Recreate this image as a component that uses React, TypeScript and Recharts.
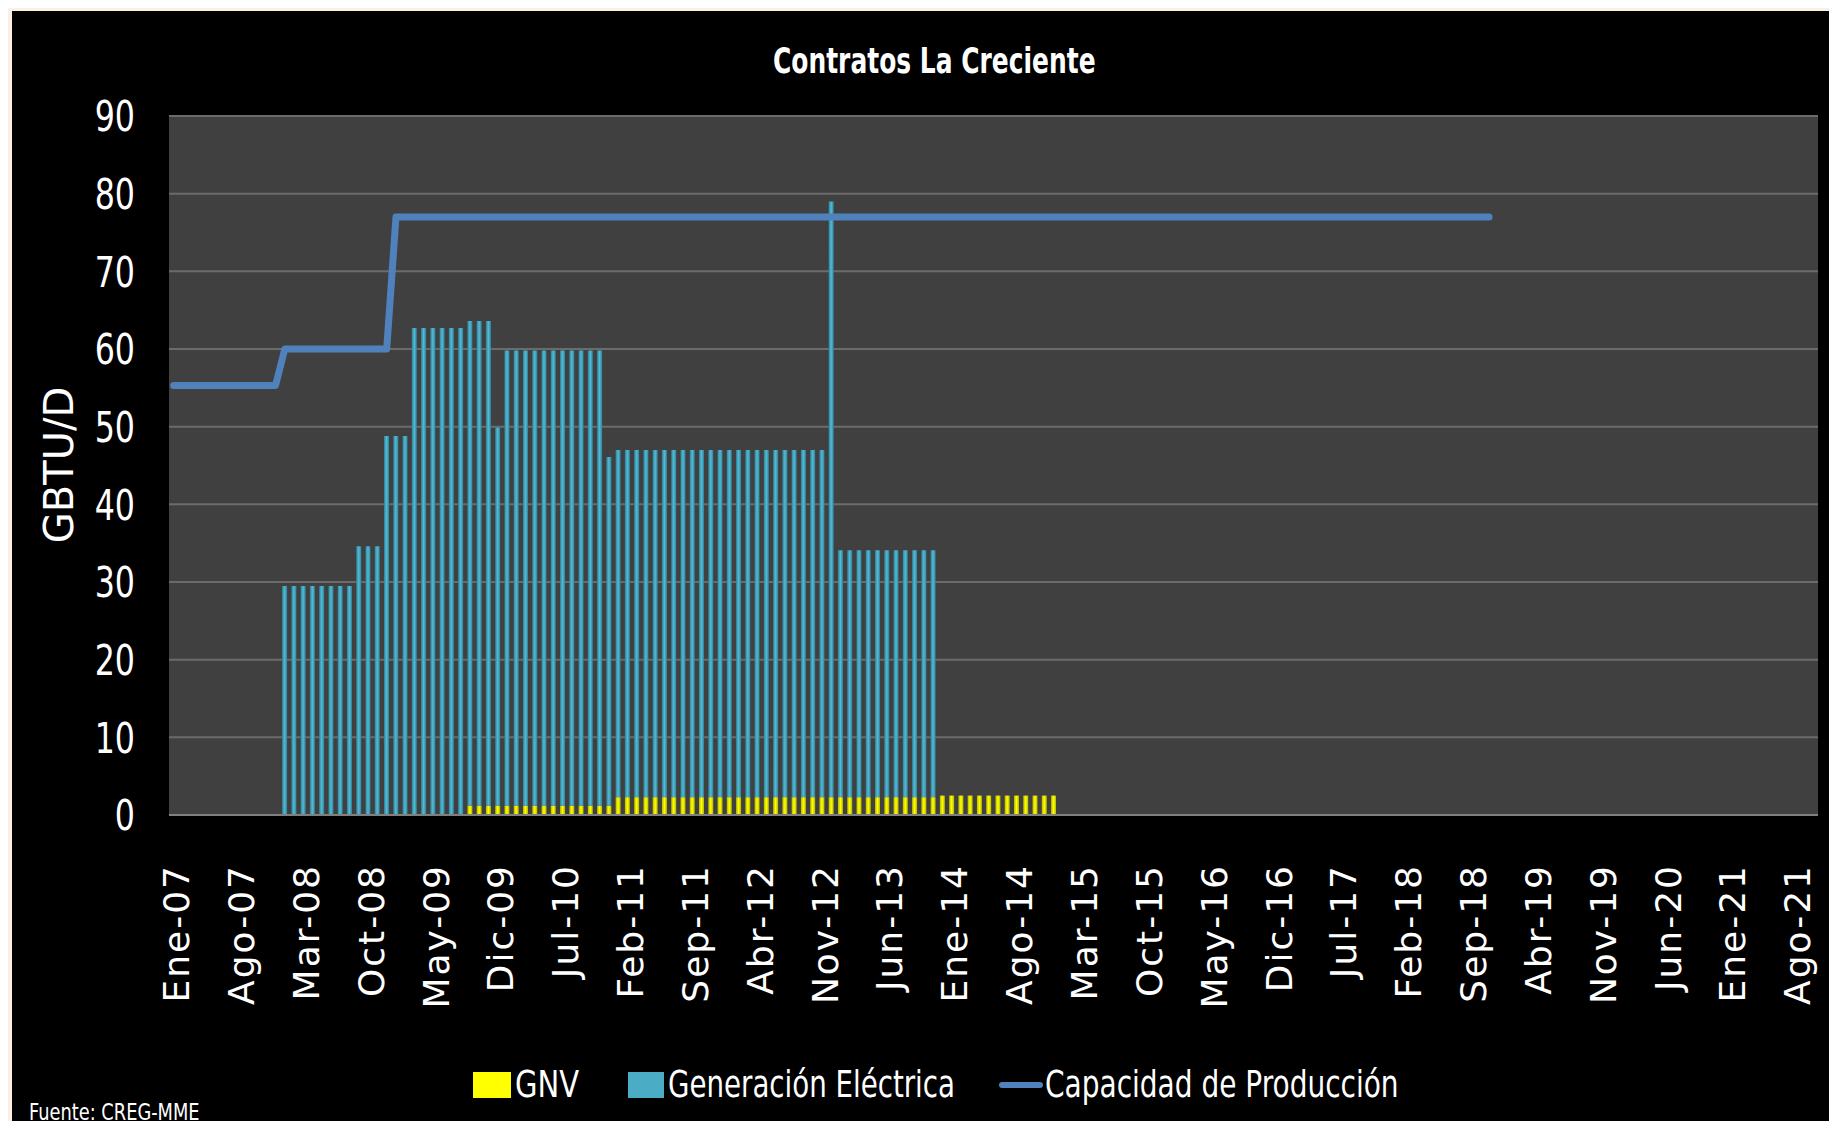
import { ComposedChart, Bar, Line, XAxis, YAxis, CartesianGrid } from 'recharts';

const NARROW = "'Liberation Sans Narrow', 'Arial Narrow', 'DejaVu Sans Condensed', sans-serif";
const WIDE = "'DejaVu Sans', Verdana, sans-serif";

// monthly categories Ene-07 .. Oct-21
const MONTHS = ['Ene', 'Feb', 'Mar', 'Abr', 'May', 'Jun', 'Jul', 'Ago', 'Sep', 'Oct', 'Nov', 'Dic'];
const YEARS = ['07', '08', '09', '10', '11', '12', '13', '14', '15', '16', '17', '18', '19', '20', '21'];
const categories = YEARS.flatMap(y => MONTHS.map(m => `${m}-${y}`)).slice(0, 178);

const yTicks = [0, 10, 20, 30, 40, 50, 60, 70, 80, 90];

// GBTU/D, one row per year
const gnv = [
  0, 0, 0, 0, 0, 0, 0, 0, 0, 0, 0, 0,
  0, 0, 0, 0, 0, 0, 0, 0, 0, 0, 0, 0,
  0, 0, 0, 0, 0, 0, 0, 0, 1.2, 1.2, 1.2, 1.2,
  1.2, 1.2, 1.2, 1.2, 1.2, 1.2, 1.2, 1.2, 1.2, 1.2, 1.2, 1.2,
  2.3, 2.3, 2.3, 2.3, 2.3, 2.3, 2.3, 2.3, 2.3, 2.3, 2.3, 2.3,
  2.3, 2.3, 2.3, 2.3, 2.3, 2.3, 2.3, 2.3, 2.3, 2.3, 2.3, 2.3,
  2.3, 2.3, 2.3, 2.3, 2.3, 2.3, 2.3, 2.3, 2.3, 2.3, 2.3, 2.5,
  2.5, 2.5, 2.5, 2.5, 2.5, 2.5, 2.5, 2.5, 2.5, 2.5, 2.5, 2.5,
  0, 0, 0, 0, 0, 0, 0, 0, 0, 0, 0, 0,
  0, 0, 0, 0, 0, 0, 0, 0, 0, 0, 0, 0,
  0, 0, 0, 0, 0, 0, 0, 0, 0, 0, 0, 0,
  0, 0, 0, 0, 0, 0, 0, 0, 0, 0, 0, 0,
  0, 0, 0, 0, 0, 0, 0, 0, 0, 0, 0, 0,
  0, 0, 0, 0, 0, 0, 0, 0, 0, 0, 0, 0,
  0, 0, 0, 0, 0, 0, 0, 0, 0, 0,
];

const generacion = [
  0, 0, 0, 0, 0, 0, 0, 0, 0, 0, 0, 0,
  29.5, 29.5, 29.5, 29.5, 29.5, 29.5, 29.5, 29.5, 34.6, 34.6, 34.6, 48.8,
  48.8, 48.8, 62.7, 62.7, 62.7, 62.7, 62.7, 62.7, 62.4, 62.4, 62.4, 48.7,
  58.6, 58.6, 58.6, 58.6, 58.6, 58.6, 58.6, 58.6, 58.6, 58.6, 58.6, 44.9,
  44.7, 44.7, 44.7, 44.7, 44.7, 44.7, 44.7, 44.7, 44.7, 44.7, 44.7, 44.7,
  44.7, 44.7, 44.7, 44.7, 44.7, 44.7, 44.7, 44.7, 44.7, 44.7, 44.7, 76.7,
  31.8, 31.8, 31.8, 31.8, 31.8, 31.8, 31.8, 31.8, 31.8, 31.8, 31.8, 0,
  0, 0, 0, 0, 0, 0, 0, 0, 0, 0, 0, 0,
  0, 0, 0, 0, 0, 0, 0, 0, 0, 0, 0, 0,
  0, 0, 0, 0, 0, 0, 0, 0, 0, 0, 0, 0,
  0, 0, 0, 0, 0, 0, 0, 0, 0, 0, 0, 0,
  0, 0, 0, 0, 0, 0, 0, 0, 0, 0, 0, 0,
  0, 0, 0, 0, 0, 0, 0, 0, 0, 0, 0, 0,
  0, 0, 0, 0, 0, 0, 0, 0, 0, 0, 0, 0,
  0, 0, 0, 0, 0, 0, 0, 0, 0, 0,
];

const capacidad = [
  55.3, 55.3, 55.3, 55.3, 55.3, 55.3, 55.3, 55.3, 55.3, 55.3, 55.3, 55.3,
  60, 60, 60, 60, 60, 60, 60, 60, 60, 60, 60, 60,
  77, 77, 77, 77, 77, 77, 77, 77, 77, 77, 77, 77,
  77, 77, 77, 77, 77, 77, 77, 77, 77, 77, 77, 77,
  77, 77, 77, 77, 77, 77, 77, 77, 77, 77, 77, 77,
  77, 77, 77, 77, 77, 77, 77, 77, 77, 77, 77, 77,
  77, 77, 77, 77, 77, 77, 77, 77, 77, 77, 77, 77,
  77, 77, 77, 77, 77, 77, 77, 77, 77, 77, 77, 77,
  77, 77, 77, 77, 77, 77, 77, 77, 77, 77, 77, 77,
  77, 77, 77, 77, 77, 77, 77, 77, 77, 77, 77, 77,
  77, 77, 77, 77, 77, 77, 77, 77, 77, 77, 77, 77,
  77, 77, 77, 77, 77, 77, 77, 77, 77, 77, 77, null,
  null, null, null, null, null, null, null, null, null, null, null, null,
  null, null, null, null, null, null, null, null, null, null, null, null,
  null, null, null, null, null, null, null, null, null, null,
];

const data = categories.map((label, i) => ({
  label,
  gnv: gnv[i],
  generacion: generacion[i],
  capacidad: capacidad[i],
}));

const white = '#ffffff';

function MonthTick({ x, y, payload }: any) {
  return (
    <text
      x={0}
      y={0}
      transform={`translate(${x + 3},${y}) rotate(-90)`}
      textAnchor="end"
      dominantBaseline="central"
      fill={white}
      fontFamily={WIDE}
      fontSize={36}
      letterSpacing={2}
    >
      {payload.value}
    </text>
  );
}

function ValueTick({ x, y, payload }: any) {
  return (
    <text
      x={0}
      y={0}
      transform={`translate(${x},${y}) scale(0.86,1.06)`}
      textAnchor="end"
      dominantBaseline="central"
      fill={white}
      fontFamily={NARROW}
      fontSize={41}
    >
      {payload.value}
    </text>
  );
}

const squeeze = (k: number) => ({ transform: `scaleX(${k})`, transformOrigin: 'left center' });

export default function App() {
  return (
    <div style={{ position: 'relative', width: 1837, height: 1129, margin: -8, background: '#fcefe3', overflow: 'hidden' }}>
      <div style={{ position: 'absolute', left: 12, top: 11, width: 1825, height: 1118, background: '#000000' }}>
        <ComposedChart
          width={1825}
          height={1118}
          data={data}
          margin={{ top: 105, right: 19, bottom: 114, left: 0 }}
          barCategoryGap="21%"
        >
          <defs>
            <linearGradient id="cyanGrad" x1="0" y1="0" x2="1" y2="0">
              <stop offset="0%" stopColor="#2f8299" />
              <stop offset="50%" stopColor="#52bad6" />
              <stop offset="100%" stopColor="#2f8299" />
            </linearGradient>
            <linearGradient id="yellowGrad" x1="0" y1="0" x2="1" y2="0">
              <stop offset="0%" stopColor="#b5b500" />
              <stop offset="50%" stopColor="#ffff00" />
              <stop offset="100%" stopColor="#b5b500" />
            </linearGradient>
          </defs>
          <CartesianGrid vertical={false} stroke="#6b6b6b" strokeWidth={2} fill="#404040" fillOpacity={1} />
          <XAxis
            dataKey="label"
            interval={6}
            tick={<MonthTick />}
            tickLine={false}
            tickSize={0}
            tickMargin={49}
            height={200}
            axisLine={{ stroke: '#808080', strokeWidth: 2 }}
          />
          <YAxis
            domain={[0, 90]}
            ticks={yTicks}
            interval={0}
            width={157}
            axisLine={false}
            tickLine={false}
            tickSize={0}
            tickMargin={34}
            tick={<ValueTick />}
          />
          <Line
            type="linear"
            dataKey="capacidad"
            name="Capacidad de Producción"
            stroke="#4f81bd"
            strokeWidth={7}
            strokeLinecap="round"
            strokeLinejoin="round"
            dot={false}
            activeDot={false}
            isAnimationActive={false}
          />
          <Bar dataKey="gnv" name="GNV" stackId="a" fill="url(#yellowGrad)" isAnimationActive={false} />
          <Bar dataKey="generacion" name="Generación Eléctrica" stackId="a" fill="url(#cyanGrad)" isAnimationActive={false} />
        </ComposedChart>
      </div>

      <div style={{ position: 'absolute', left: 773, top: 43, color: white, fontFamily: NARROW, fontWeight: 700, fontSize: 36, lineHeight: 1, whiteSpace: 'nowrap', ...squeeze(0.77) }}>
        Contratos La Creciente
      </div>

      <div style={{ position: 'absolute', left: 59, top: 465, transform: 'translate(-50%, -50%) rotate(-90deg)', color: white, fontFamily: WIDE, fontSize: 40, lineHeight: 1, whiteSpace: 'nowrap' }}>
        GBTU/D
      </div>

      <div style={{ position: 'absolute', left: 0, top: 1066, color: white, fontFamily: NARROW, fontSize: 37.5, lineHeight: 1, whiteSpace: 'nowrap' }}>
        <div style={{ position: 'absolute', left: 473, top: 6, width: 38, height: 26, background: '#ffff00' }} />
        <div style={{ position: 'absolute', left: 515, top: 0, ...squeeze(0.86) }}>GNV</div>
        <div style={{ position: 'absolute', left: 628, top: 6, width: 36, height: 26, background: '#4bacc6' }} />
        <div style={{ position: 'absolute', left: 668, top: 0, ...squeeze(0.82) }}>Generación Eléctrica</div>
        <div style={{ position: 'absolute', left: 999, top: 16, width: 44, height: 6, borderRadius: 3, background: '#4f81bd' }} />
        <div style={{ position: 'absolute', left: 1045, top: 0, ...squeeze(0.83) }}>Capacidad de Producción</div>
      </div>

      <div style={{ position: 'absolute', left: 29, top: 1101, color: white, fontFamily: NARROW, fontSize: 22.5, lineHeight: 1, whiteSpace: 'nowrap', ...squeeze(0.88) }}>
        Fuente: CREG-MME
      </div>
    </div>
  );
}
